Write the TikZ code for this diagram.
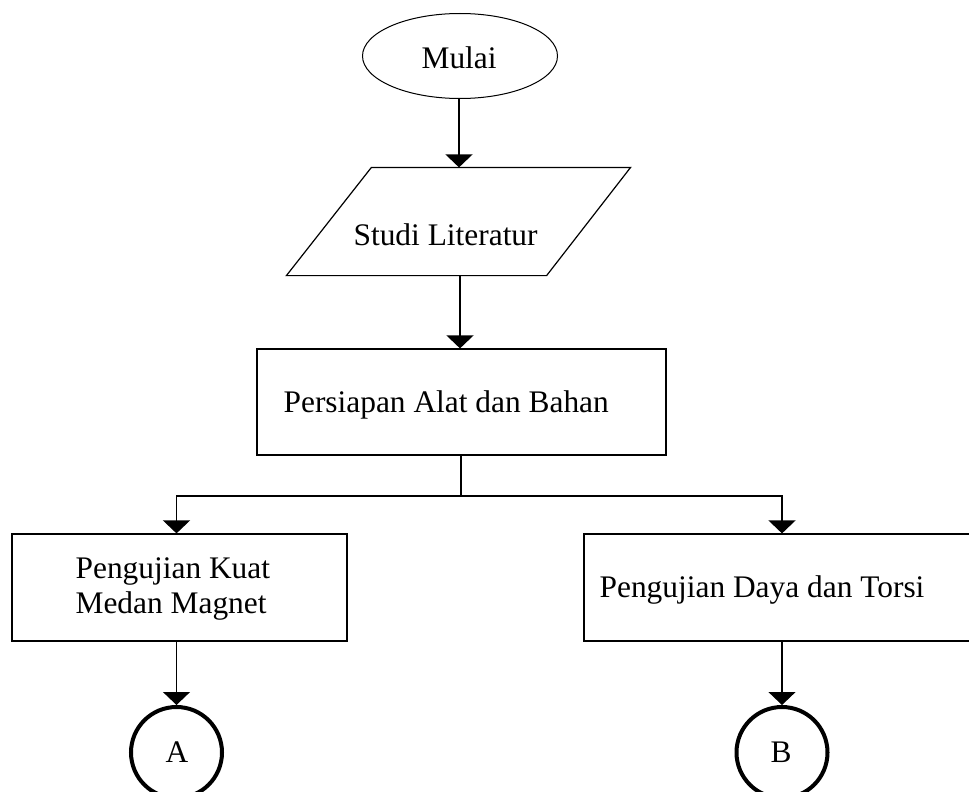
\documentclass[tikz,border=0pt]{standalone}
\usepackage{fontspec}
\setmainfont{Liberation Serif}
\usetikzlibrary{arrows.meta,shapes.geometric}
\begin{document}
\begin{tikzpicture}[x=1pt,y=-1pt,
  line width=1.2pt,
  arr/.style={-{Triangle[width=27pt,length=13pt]}},
  txt/.style={inner sep=0pt,anchor=base west,font=\fontsize{31.4}{35}\selectfont},
  boxshape/.style={draw,rectangle,inner sep=0pt}]
\useasboundingbox (0,0) rectangle (969,792);
\clip (0,0) rectangle (969,792);
% shapes
\node[draw,ellipse,line width=1pt,minimum width=195pt,minimum height=85pt,inner sep=0pt] (mulai) at (460,56) {};
\node[inner sep=0pt,minimum width=343pt,minimum height=107pt] (lit) at (458.5,221.5) {};
\draw ([xshift=85pt]lit.north west) -- (lit.north east) -- ([xshift=-84pt]lit.south east) -- (lit.south west) -- cycle;
\node[boxshape,minimum width=409pt,minimum height=106pt] (prep) at (461.5,402) {};
\node[boxshape,minimum width=335pt,minimum height=107pt] (kuat) at (179.5,587.5) {};
\node[boxshape,minimum width=410pt,minimum height=107pt] (daya) at (789,587.5) {};
\node[draw,circle,line width=4pt,minimum size=91pt,inner sep=0pt] (cA) at (176.5,752.5) {};
\node[draw,circle,line width=4pt,minimum size=91pt,inner sep=0pt] (cB) at (782,752.5) {};
% texts
\node[txt] (tmulai) at (421,68) {Mulai};
\node[txt] (tlit) at (353,245) {Studi Literatur};
\node[txt] (tprep) at (283,412) {Persiapan Alat dan Bahan};
\node[txt,align=left] (tkuat) at (75,613) {Pengujian Kuat\\Medan Magnet};
\node[txt] (tdaya) at (599,597) {Pengujian Daya dan Torsi};
\node[txt,anchor=base] (tA) at (177,762) {A};
\node[txt,anchor=base] (tB) at (781,762) {B};
% connectors
\draw[arr] (mulai.south -| 459,0) -- (459,0 |- lit.north);
\draw[arr] (lit.south -| 460,0) -- (460,0 |- prep.north);
\coordinate (split) at (461,496);
\draw (prep.south -| split) -- (split);
\draw[arr] (split) -| (cA |- kuat.north);
\draw[arr] (split) -| (cB |- daya.north);
\draw[arr] (kuat.south -| cA) -- (cA);
\draw[arr] (daya.south -| cB) -- (cB);
\end{tikzpicture}
\end{document}
